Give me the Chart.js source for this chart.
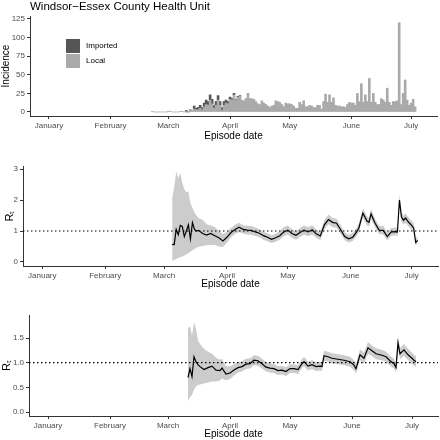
<!DOCTYPE html>
<html>
<head>
<meta charset="utf-8">
<script src="https://cdn.jsdelivr.net/npm/chart.js@4.4.0/dist/chart.umd.min.js"></script>
<style>
  html, body { margin: 0; padding: 0; background: #fff; }
  .panel { position: absolute; left: 0; width: 440px; }
</style>
</head>
<body>
<div class="panel" style="top:0;height:142px"><canvas id="inc"></canvas></div>
<div class="panel" style="top:150px;height:140px"><canvas id="rt1"></canvas></div>
<div class="panel" style="top:299px;height:141px"><canvas id="rt2"></canvas></div>
<script>
const monthLabels = ['January', 'February', 'March', 'April', 'May', 'June', 'July'];
const monthStarts = ['01-01', '02-01', '03-01', '04-01', '05-01', '06-01', '07-01'];

// daily incidence, consecutive days from the first date
const localFrom = '02-22';
const localCases = [
    1, 0, 0, 0, 0, 0, 0, 0, 1, 1,
    0, 0, 0, 0, 1, 1, 0, 0, 0, 2, 2,
    4, 3, 3, 5, 3, 7, 10, 9, 16, 11, 5, 9, 16, 9, 2, 9, 12, 11, 17, 16, 23, 16, 20, 21,
    16, 15, 18, 25, 18, 18, 17, 14, 11, 10, 15, 12, 10, 8, 6, 8, 9, 15, 14,
    13, 10, 7, 12, 11, 11, 10, 8, 5, 5,
    13, 10, 15, 7, 7, 9, 8, 6, 6, 9,
    9, 4, 14, 24, 13, 23, 13, 19, 9, 8,
    8, 7, 7, 6, 10, 13, 12, 12, 9, 25,
    14, 38, 13, 23, 14, 45, 13, 25, 13, 10,
    10, 18, 16, 13, 32, 13, 9, 14, 14, 15,
    120, 10, 25, 43, 16, 9, 12, 17, 7
];
const importedFrom = '03-10';
const importedCases = [2, 0, 1, 0, 4, 2, 3, 4, 3, 5, 6, 5, 7, 6, 4, 5, 6, 5, 4, 5, 4, 3, 3, 2, 2, 1, 1, 1];

// Rt, first panel
const rt1Dates = ['03-05', '03-06', '03-07', '03-08', '03-09', '03-10', '03-11', '03-12', '03-13', '03-14',
    '03-15', '03-16', '03-17', '03-18', '03-20', '03-22', '03-24', '03-26', '03-28', '03-30',
    '04-01', '04-03', '04-05', '04-07', '04-09', '04-11', '04-13', '04-15', '04-17', '04-19',
    '04-21', '04-23', '04-25', '04-27', '04-29', '05-01', '05-03', '05-05', '05-07', '05-09',
    '05-11', '05-13', '05-15', '05-17', '05-19', '05-21', '05-23', '05-25', '05-27', '05-29',
    '05-31', '06-02', '06-04', '06-05', '06-07', '06-09', '06-10', '06-11', '06-13', '06-15',
    '06-17', '06-19', '06-21', '06-23', '06-24', '06-25', '06-26', '06-27', '06-28', '06-29',
    '06-30', '07-01', '07-02', '07-03', '07-04'];
const rt1Mean = [0.57, 0.56, 1.05, 0.88, 1.18, 1.15, 0.82, 1.00, 1.20, 0.74,
    1.27, 1.05, 1.00, 1.02, 0.92, 0.87, 0.92, 0.85, 0.78, 0.68,
    0.80, 0.95, 1.05, 1.12, 1.05, 1.03, 1.02, 0.97, 0.93, 0.85,
    0.80, 0.73, 0.78, 0.85, 0.97, 1.03, 0.92, 0.86, 0.95, 1.03,
    0.97, 1.04, 0.91, 0.84, 1.20, 1.37, 1.28, 1.25, 1.05, 0.82,
    0.75, 0.80, 0.98, 1.10, 1.58, 1.32, 1.28, 1.55, 1.25, 1.03,
    1.02, 0.82, 0.97, 0.98, 0.97, 2.00, 1.45, 1.35, 1.42, 1.33,
    1.25, 1.18, 1.10, 0.63, 0.70];
const rt1Lower = [0.03, 0.06, 0.10, 0.13, 0.15, 0.18, 0.21, 0.25, 0.28, 0.33,
    0.38, 0.42, 0.46, 0.49, 0.52, 0.54, 0.55, 0.55, 0.50, 0.48,
    0.62, 0.80, 0.90, 0.97, 0.91, 0.89, 0.88, 0.84, 0.80, 0.72,
    0.67, 0.61, 0.65, 0.72, 0.83, 0.89, 0.78, 0.72, 0.81, 0.88,
    0.83, 0.89, 0.78, 0.71, 1.05, 1.22, 1.13, 1.10, 0.91, 0.70,
    0.63, 0.68, 0.85, 0.97, 1.43, 1.18, 1.14, 1.40, 1.11, 0.90,
    0.89, 0.70, 0.85, 0.86, 0.85, 1.82, 1.31, 1.21, 1.27, 1.19,
    1.11, 1.04, 0.96, 0.54, 0.60];
const rt1Upper = [2.10, 2.40, 2.92, 2.70, 2.88, 2.55, 2.35, 2.25, 2.28, 1.90,
    1.75, 1.60, 1.50, 1.42, 1.36, 1.22, 1.18, 1.12, 1.02, 0.90,
    0.98, 1.10, 1.20, 1.27, 1.19, 1.17, 1.16, 1.11, 1.06, 0.98,
    0.93, 0.86, 0.91, 0.99, 1.12, 1.18, 1.06, 1.00, 1.10, 1.18,
    1.12, 1.19, 1.05, 0.98, 1.35, 1.53, 1.43, 1.40, 1.19, 0.95,
    0.88, 0.93, 1.12, 1.24, 1.73, 1.47, 1.42, 1.70, 1.39, 1.17,
    1.16, 0.95, 1.10, 1.11, 1.10, 2.18, 1.60, 1.50, 1.57, 1.48,
    1.40, 1.33, 1.25, 0.76, 0.82];

// Rt, second panel
const rt2Dates = ['03-11', '03-12', '03-13', '03-14', '03-15', '03-16', '03-17', '03-19', '03-21', '03-23',
    '03-25', '03-27', '03-28', '03-30', '04-01', '04-03', '04-05', '04-07', '04-09', '04-11',
    '04-13', '04-15', '04-17', '04-19', '04-21', '04-23', '04-25', '04-27', '04-29', '05-01',
    '05-03', '05-05', '05-07', '05-08', '05-10', '05-12', '05-14', '05-16', '05-17', '05-18',
    '05-20', '05-22', '05-25', '05-28', '05-31', '06-02', '06-03', '06-05', '06-07', '06-09',
    '06-11', '06-13', '06-16', '06-18', '06-20', '06-22', '06-23', '06-24', '06-25', '06-27',
    '06-29', '07-01', '07-02', '07-03'];
const rt2Mean = [0.70, 0.88, 0.72, 1.12, 1.02, 0.96, 0.92, 0.86, 0.90, 0.93,
    0.85, 0.84, 0.89, 0.77, 0.79, 0.85, 0.90, 0.92, 0.97, 0.98,
    1.05, 1.04, 0.98, 0.91, 0.89, 0.88, 0.84, 0.85, 0.82, 0.88,
    0.88, 0.86, 0.98, 1.02, 0.93, 0.96, 0.92, 0.93, 0.92, 1.14,
    1.12, 1.09, 1.07, 1.05, 1.02, 0.95, 0.88, 1.16, 1.09, 1.30,
    1.24, 1.18, 1.15, 1.12, 1.04, 0.98, 0.90, 1.40, 1.18, 1.26,
    1.16, 1.09, 1.05, 1.02];
const rt2Lower = [0.22, 0.30, 0.35, 0.45, 0.52, 0.55, 0.56, 0.58, 0.60, 0.62,
    0.62, 0.64, 0.68, 0.64, 0.67, 0.74, 0.80, 0.82, 0.87, 0.88,
    0.95, 0.94, 0.88, 0.82, 0.80, 0.79, 0.75, 0.76, 0.73, 0.79,
    0.79, 0.77, 0.89, 0.93, 0.84, 0.87, 0.83, 0.84, 0.83, 1.04,
    1.02, 0.99, 0.97, 0.95, 0.92, 0.85, 0.78, 1.05, 0.98, 1.18,
    1.13, 1.07, 1.05, 1.02, 0.94, 0.88, 0.80, 1.27, 1.07, 1.14,
    1.05, 0.98, 0.94, 0.92];
const rt2Upper = [1.70, 1.74, 1.55, 1.82, 1.68, 1.45, 1.38, 1.28, 1.22, 1.18,
    1.10, 1.06, 1.08, 0.93, 0.93, 0.97, 1.01, 1.03, 1.08, 1.09,
    1.15, 1.14, 1.08, 1.01, 0.99, 0.97, 0.93, 0.94, 0.91, 0.97,
    0.97, 0.95, 1.07, 1.12, 1.02, 1.05, 1.01, 1.02, 1.01, 1.24,
    1.22, 1.19, 1.17, 1.15, 1.12, 1.05, 0.98, 1.27, 1.20, 1.42,
    1.35, 1.29, 1.26, 1.22, 1.14, 1.08, 1.00, 1.54, 1.30, 1.38,
    1.28, 1.20, 1.16, 1.13];

const xMin = -9.5;
const xMax = 195;
const axisColor = '#333333';
const tickColor = '#4d4d4d';
const family = '"Liberation Sans", Arial, sans-serif';
const ribbonColor = '#cccccc';

function dayOf(md) {
    const [m, d] = md.split('-').map(Number);
    return (Date.UTC(2020, m - 1, d) - Date.UTC(2020, 0, 1)) / 86400000;
}
function daily(from, values) {
    const d0 = dayOf(from);
    return values.map((v, i) => ({ x: d0 + i, y: v }));
}
function points(dates, values) {
    return dates.map((d, i) => ({ x: dayOf(d), y: values[i] }));
}

function xAxis(height) {
    return {
        type: 'linear', min: xMin, max: xMax, offset: false, stacked: true,
        grid: { display: true, drawOnChartArea: false, drawTicks: true, tickLength: 3, color: axisColor, offset: false },
        border: { display: true, color: axisColor, width: 1 },
        ticks: {
            color: tickColor, font: { family: family, size: 8 }, padding: 2, autoSkip: false, maxRotation: 0,
            callback: (v, i) => monthLabels[i]
        },
        afterBuildTicks: s => { s.ticks = monthStarts.map(m => ({ value: dayOf(m) })); },
        title: { display: true, text: 'Episode date', color: '#000', font: { family: family, size: 10 }, padding: 0 },
        afterFit: s => { s.height = height; }
    };
}
function yAxis(min, max, tickVals, digits, width, label, labelSize) {
    return {
        min: min, max: max, stacked: true,
        grid: { display: true, drawOnChartArea: false, drawTicks: true, tickLength: 3, color: axisColor },
        border: { display: true, color: axisColor, width: 1 },
        ticks: { color: tickColor, font: { family: family, size: 8 }, padding: 2, callback: v => v.toFixed(digits) },
        afterBuildTicks: s => { s.ticks = tickVals.map(v => ({ value: v })); },
        title: { display: true, text: label, color: '#000', font: { family: family, size: labelSize }, padding: 0 },
        afterFit: s => { s.width = width; }
    };
}

const headerPlugin = {
    id: 'header',
    afterDraw(chart) {
        const ctx = chart.ctx;
        ctx.save();
        ctx.fillStyle = '#000';
        ctx.textAlign = 'left';
        ctx.textBaseline = 'middle';
        ctx.font = '11.5px ' + family;
        ctx.fillText('Windsor\u2212Essex County Health Unit', chart.chartArea.left, 7);
        // legend, Imported listed first
        ctx.font = '8px ' + family;
        const items = chart.data.datasets.slice().reverse();
        items.forEach((ds, i) => {
            const y = 39 + i * 15;
            ctx.fillStyle = ds.backgroundColor;
            ctx.fillRect(66, y, 14, 14);
            ctx.fillStyle = '#000';
            ctx.fillText(ds.label, 86, y + 7);
        });
        ctx.restore();
    }
};

const base = {
    responsive: true,
    maintainAspectRatio: false,
    animation: false,
    plugins: { legend: { display: false }, tooltip: { enabled: false } }
};

new Chart(document.getElementById('inc'), {
    type: 'bar',
    data: {
        datasets: [
            { label: 'Local', data: daily(localFrom, localCases), backgroundColor: '#aaaaaa', borderWidth: 0, barPercentage: 1, categoryPercentage: 1 },
            { label: 'Imported', data: daily(importedFrom, importedCases), backgroundColor: '#555555', borderWidth: 0, barPercentage: 1, categoryPercentage: 1 }
        ]
    },
    options: Object.assign({}, base, {
        layout: { padding: { top: 16, right: 3, left: 0, bottom: 0 } },
        scales: {
            x: xAxis(26),
            y: yAxis(-5.4, 129, [0, 25, 50, 75, 100, 125], 0, 30, 'Incidence', 10)
        }
    }),
    plugins: [headerPlugin]
});

function rtChart(id, dates, mean, lower, upper, yMin, yMax, tickVals, digits, width, padLeft) {
    return new Chart(document.getElementById(id), {
        type: 'line',
        data: {
            datasets: [
                { data: points(dates, upper), fill: '+1', backgroundColor: ribbonColor, borderColor: 'rgba(0,0,0,0)', borderWidth: 0, pointRadius: 0, order: 3 },
                { data: points(dates, lower), fill: false, borderColor: 'rgba(0,0,0,0)', borderWidth: 0, pointRadius: 0, order: 2 },
                { data: [{ x: xMin, y: 1 }, { x: xMax, y: 1 }], borderColor: '#000', borderDash: [1.5, 2.5], borderWidth: 1.2, pointRadius: 0, fill: false, order: 1 },
                { data: points(dates, mean), borderColor: '#000', borderWidth: 1.2, pointRadius: 0, fill: false, order: 0 }
            ]
        },
        options: Object.assign({}, base, {
            layout: { padding: { top: 16, right: 2, left: padLeft, bottom: 0 } },
            scales: {
                x: Object.assign(xAxis(24), { stacked: false }),
                y: Object.assign(yAxis(yMin, yMax, tickVals, digits, width, 'R\u209c', 11), { stacked: false })
            }
        })
    });
}

rtChart('rt1', rt1Dates, rt1Mean, rt1Lower, rt1Upper, -0.13, 3.1, [0, 1, 2, 3], 0, 20, 3);
rtChart('rt2', rt2Dates, rt2Mean, rt2Lower, rt2Upper, -0.08, 1.966, [0, 0.5, 1, 1.5], 1, 29, 0);
</script>
</body>
</html>
